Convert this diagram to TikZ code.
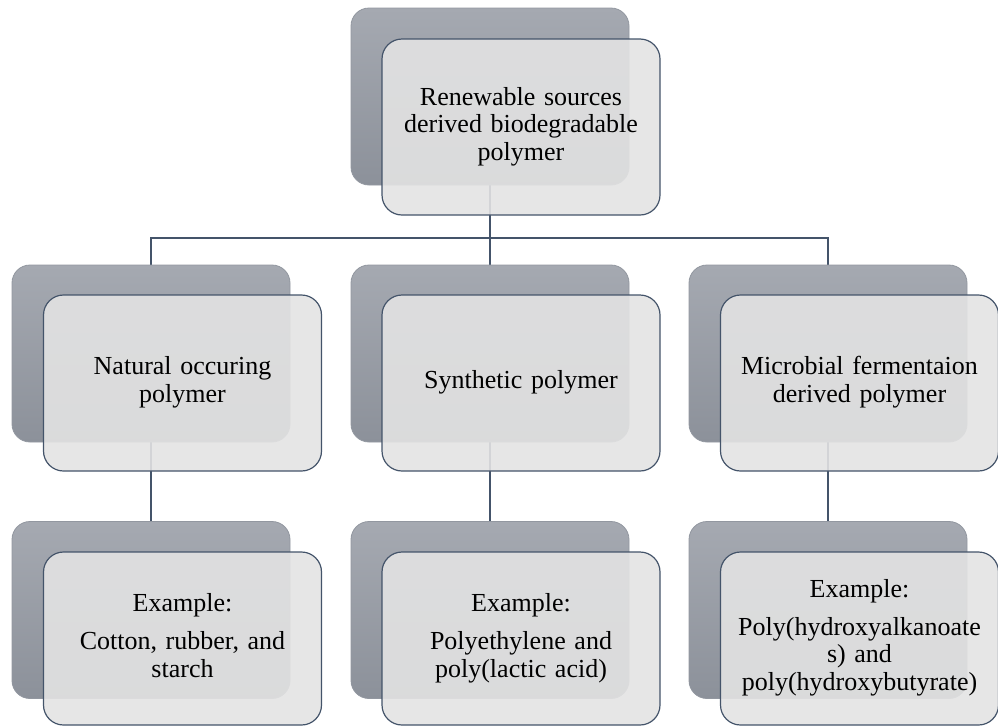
\documentclass[tikz,border=0pt]{standalone}
\usepackage{fontspec}
\setmainfont{Liberation Serif}
\pgfdeclarelayer{background}
\pgfsetlayers{background,main}
\definecolor{bktop}{HTML}{A5A9B1}
\definecolor{bkbot}{HTML}{8C919A}
\definecolor{bkedge}{HTML}{9297A0}
\definecolor{frfill}{HTML}{E3E3E3}
\definecolor{frline}{HTML}{44546A}
\begin{document}
\begin{tikzpicture}[x=1pt,y=-1pt,
  backbox/.style={rectangle, rounded corners=18pt, minimum width=278pt, minimum height=177pt,
    top color=bktop, bottom color=bkbot, draw=bkedge, line width=0.8pt},
  frontbox/.style={rectangle, rounded corners=20pt, minimum width=278pt, minimum height=176pt,
    fill=frfill, fill opacity=0.9, text opacity=1, draw=frline, line width=1.2pt,
    align=center, text width=262pt, font=\rmfamily\fontsize{26}{27.5}\selectfont,
    execute at begin node=\strut, execute at end node=\strut},
  conn/.style={draw=frline, line width=2pt}]
\useasboundingbox (0,0) rectangle (998,726);

% back boxes
\node[backbox] (b0) at (490,96.5) {};
\node[backbox] (b1) at (151,353.5) {};
\node[backbox] (b2) at (490,353.5) {};
\node[backbox] (b3) at (828,353.5) {};
\node[backbox] (b4) at (151,610) {};
\node[backbox] (b5) at (490,610) {};
\node[backbox] (b6) at (828,610) {};

% connectors behind
\coordinate (j) at (490,238);
\begin{pgfonlayer}{background}
\draw[conn] (b0) -- (b2);
\draw[conn] (b1) |- (j) -| (b3);
\draw[conn] (b1) -- (b4);
\draw[conn] (b2) -- (b5);
\draw[conn] (b3) -- (b6);
\end{pgfonlayer}

% front boxes
\node[frontbox] (f0) at (521,127) {Renewable sources\\derived biodegradable\\polymer};
\node[frontbox] (f1) at (182.5,383) {Natural occuring\\polymer};
\node[frontbox] (f2) at (521,383) {Synthetic polymer};
\node[frontbox] (f3) at (859.5,383) {Microbial fermentaion\\derived polymer};
\node[frontbox, minimum height=173pt] (f4) at (182.5,638.5) {Example:\\[11pt]Cotton, rubber, and\\starch};
\node[frontbox, minimum height=173pt] (f5) at (521,638.5) {Example:\\[11pt]Polyethylene and\\poly(lactic acid)};
\node[frontbox, minimum height=173pt] (f6) at (859.5,638.5) {Example:\\[10pt]Poly(hydroxyalkanoate\\s) and\\poly(hydroxybutyrate)};
\end{tikzpicture}
\end{document}
